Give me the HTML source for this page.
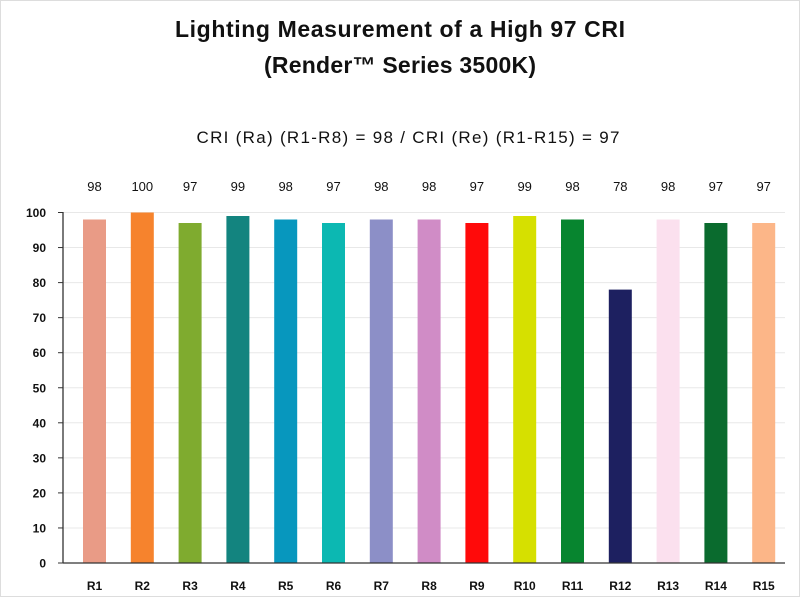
<!DOCTYPE html>
<html><head><style>
body{margin:0;background:#fff;}
svg{display:block;font-family:"Liberation Sans",Arial,sans-serif;}
</style></head><body>
<svg width="800" height="597" viewBox="0 0 800 597">
<rect x="0.5" y="0.5" width="799" height="596" fill="#fff" stroke="#ddd"/>
<text x="400" y="37" text-anchor="middle" font-size="23" font-weight="bold" fill="#111" textLength="450">Lighting Measurement of a High 97 CRI</text>
<text x="400" y="73" text-anchor="middle" font-size="23" font-weight="bold" fill="#111" textLength="272">(Render™ Series 3500K)</text>
<text x="408" y="143" text-anchor="middle" font-size="17" fill="#111" textLength="423">CRI (Ra) (R1-R8) = 98 / CRI (Re) (R1-R15) = 97</text>
<g stroke="#e8e8e8">
<line x1="63" x2="785" y1="527.95" y2="527.95"/>
<line x1="63" x2="785" y1="492.9" y2="492.9"/>
<line x1="63" x2="785" y1="457.85" y2="457.85"/>
<line x1="63" x2="785" y1="422.8" y2="422.8"/>
<line x1="63" x2="785" y1="387.75" y2="387.75"/>
<line x1="63" x2="785" y1="352.7" y2="352.7"/>
<line x1="63" x2="785" y1="317.65" y2="317.65"/>
<line x1="63" x2="785" y1="282.6" y2="282.6"/>
<line x1="63" x2="785" y1="247.55" y2="247.55"/>
<line x1="63" x2="785" y1="212.5" y2="212.5"/>
</g>
<g stroke="#333">
<line x1="58" x2="63" y1="563" y2="563"/>
<line x1="58" x2="63" y1="527.95" y2="527.95"/>
<line x1="58" x2="63" y1="492.9" y2="492.9"/>
<line x1="58" x2="63" y1="457.85" y2="457.85"/>
<line x1="58" x2="63" y1="422.8" y2="422.8"/>
<line x1="58" x2="63" y1="387.75" y2="387.75"/>
<line x1="58" x2="63" y1="352.7" y2="352.7"/>
<line x1="58" x2="63" y1="317.65" y2="317.65"/>
<line x1="58" x2="63" y1="282.6" y2="282.6"/>
<line x1="58" x2="63" y1="247.55" y2="247.55"/>
<line x1="58" x2="63" y1="212.5" y2="212.5"/>
</g>
<g font-size="12" font-weight="bold" fill="#111" text-anchor="end">
<text x="46" y="567.5">0</text>
<text x="46" y="532.5">10</text>
<text x="46" y="497.4">20</text>
<text x="46" y="462.4">30</text>
<text x="46" y="427.3">40</text>
<text x="46" y="392.3">50</text>
<text x="46" y="357.2">60</text>
<text x="46" y="322.2">70</text>
<text x="46" y="287.1">80</text>
<text x="46" y="252">90</text>
<text x="46" y="217">100</text>
</g>
<rect x="83" y="219.5" width="23" height="343.5" fill="#e99b86"/>
<rect x="130.8" y="212.5" width="23" height="350.5" fill="#f6832d"/>
<rect x="178.6" y="223" width="23" height="340" fill="#7fab2f"/>
<rect x="226.4" y="216" width="23" height="347" fill="#13847f"/>
<rect x="274.2" y="219.5" width="23" height="343.5" fill="#0797be"/>
<rect x="322" y="223" width="23" height="340" fill="#0cb8b2"/>
<rect x="369.8" y="219.5" width="23" height="343.5" fill="#8c8fc7"/>
<rect x="417.6" y="219.5" width="23" height="343.5" fill="#d08cc6"/>
<rect x="465.4" y="223" width="23" height="340" fill="#ff0a0a"/>
<rect x="513.2" y="216" width="23" height="347" fill="#d6e000"/>
<rect x="561" y="219.5" width="23" height="343.5" fill="#07852f"/>
<rect x="608.8" y="289.6" width="23" height="273.4" fill="#1d2060"/>
<rect x="656.6" y="219.5" width="23" height="343.5" fill="#fbe0ee"/>
<rect x="704.4" y="223" width="23" height="340" fill="#0a6b2e"/>
<rect x="752.2" y="223" width="23" height="340" fill="#fcb688"/>
<g font-size="13" fill="#111" text-anchor="middle">
<text x="94.5" y="191">98</text>
<text x="142.3" y="191">100</text>
<text x="190.1" y="191">97</text>
<text x="237.9" y="191">99</text>
<text x="285.7" y="191">98</text>
<text x="333.5" y="191">97</text>
<text x="381.3" y="191">98</text>
<text x="429.1" y="191">98</text>
<text x="476.9" y="191">97</text>
<text x="524.7" y="191">99</text>
<text x="572.5" y="191">98</text>
<text x="620.3" y="191">78</text>
<text x="668.1" y="191">98</text>
<text x="715.9" y="191">97</text>
<text x="763.7" y="191">97</text>
</g>
<g font-size="12" font-weight="bold" fill="#111" text-anchor="middle">
<text x="94.5" y="590">R1</text>
<text x="142.3" y="590">R2</text>
<text x="190.1" y="590">R3</text>
<text x="237.9" y="590">R4</text>
<text x="285.7" y="590">R5</text>
<text x="333.5" y="590">R6</text>
<text x="381.3" y="590">R7</text>
<text x="429.1" y="590">R8</text>
<text x="476.9" y="590">R9</text>
<text x="524.7" y="590">R10</text>
<text x="572.5" y="590">R11</text>
<text x="620.3" y="590">R12</text>
<text x="668.1" y="590">R13</text>
<text x="715.9" y="590">R14</text>
<text x="763.7" y="590">R15</text>
</g>
<line x1="63" x2="63" y1="212" y2="563.5" stroke="#333" stroke-width="1.3"/>
<line x1="63" x2="785" y1="563" y2="563" stroke="#333" stroke-width="1.3"/>
</svg>
</body></html>
